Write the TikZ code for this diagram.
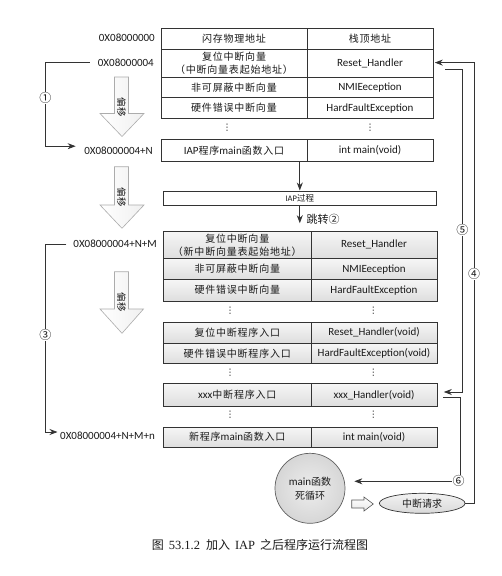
\documentclass[tikz,border=0pt]{standalone}
\usepackage{fontspec}
\setmainfont{Carlito}
\newfontfamily\cjkfont[LetterSpace=8]{Noto Sans CJK SC}
\newfontfamily\cjkplain{Noto Sans CJK SC}
\newfontfamily\capserif{Liberation Serif}
\newfontfamily\symfont{DejaVu Sans}
\newcommand\zh[1]{{\cjkfont\fontsize{10}{14}\selectfont #1}}
\usetikzlibrary{arrows.meta,shapes.geometric}
\definecolor{lc}{HTML}{333333}
\definecolor{tc}{HTML}{1A1A1A}
\tikzset{
  cell/.style={draw=lc, line width=0.6pt, inner sep=0pt, anchor=north west, align=center,
    text=tc, font=\fontsize{11}{14}\selectfont},
  cellw/.style={cell, fill=white},
  cellg/.style={cell, top color=gray!7, bottom color=gray!26},
  addr/.style={anchor=east, inner sep=0pt, text=tc, font=\fontsize{11}{13}\selectfont},
  ln/.style={draw=lc, line width=0.8pt},
  arr/.style={ln, -{Stealth[length=8pt,width=6pt]}},
  blk/.style={draw=gray!65, line width=0.6pt, left color=white, right color=gray!12},
  num/.style={fill=white, inner sep=0.5pt, text=tc, font=\cjkplain\fontsize{12}{12}\selectfont},
  dotsn/.style={inner sep=0pt, text=tc, font=\symfont\fontsize{9}{9}\selectfont},
  vtext/.style={rotate=-90, inner sep=0pt, text=tc, font=\cjkplain\fontsize{9.5}{9.5}\selectfont}
}
\begin{document}
\begin{tikzpicture}[x=1pt,y=-1pt]
\useasboundingbox[fill=white] (0,0) rectangle (502,576);

% ---- top table ----
\node[cellw, minimum width=146pt, minimum height=21pt] (r0l) at (160.7,28.3) {\zh{闪存物理地址}};
\node[cellw, minimum width=126pt, minimum height=21pt] (r0r) at (306.7,28.3) {\zh{栈顶地址}};
\node[cellw, minimum width=146pt, minimum height=28pt] (r1l) at (160.7,49.3) {\zh{复位中断向量}\\[-1pt]\zh{（中断向量表起始地址）}};
\node[cellw, minimum width=126pt, minimum height=28pt] (r1r) at (306.7,49.3) {Reset\_Handler};
\node[cellw, minimum width=146pt, minimum height=20pt] (r2l) at (160.7,77.3) {\zh{非可屏蔽中断向量}};
\node[cellw, minimum width=126pt, minimum height=20pt] (r2r) at (306.7,77.3) {NMIEeception};
\node[cellw, minimum width=146pt, minimum height=21pt] (r3l) at (160.7,97.3) {\zh{硬件错误中断向量}};
\node[cellw, minimum width=126pt, minimum height=21pt] (r3r) at (306.7,97.3) {HardFaultException};
\node[dotsn] (d0l) at (227,128) {⋮};
\node[dotsn] (d0r) at (370,128) {⋮};
\node[cellw, minimum width=146pt, minimum height=21.4pt] (r4l) at (160.7,139.3) {IAP\zh{程序}main\zh{函数入口}};
\node[cellw, minimum width=126pt, minimum height=21.4pt] (r4r) at (306.7,139.3) {int main(void)};

% ---- IAP box ----
\node[cellw, minimum width=272.4pt, minimum height=14pt, font=\fontsize{8.5}{10}\selectfont] (iap) at (163.3,190.5) {IAP{\cjkplain 过程}};

% ---- gray table ----
\node[cellg, minimum width=147.4pt, minimum height=27.6pt] (g0l) at (163.3,230.7) {\zh{复位中断向量}\\[-1pt]\zh{（新中断向量表起始地址）}};
\node[cellg, minimum width=126pt, minimum height=27.6pt] (g0r) at (310.7,230.7) {Reset\_Handler};
\node[cellg, minimum width=147.4pt, minimum height=21pt] (g1l) at (163.3,258.3) {\zh{非可屏蔽中断向量}};
\node[cellg, minimum width=126pt, minimum height=21pt] (g1r) at (310.7,258.3) {NMIEeception};
\node[cellg, minimum width=147.4pt, minimum height=21.2pt] (g2l) at (163.3,279.3) {\zh{硬件错误中断向量}};
\node[cellg, minimum width=126pt, minimum height=21.2pt] (g2r) at (310.7,279.3) {HardFaultException};
\node[dotsn] (d1l) at (230,310.7) {⋮};
\node[dotsn] (d1r) at (373.3,310.7) {⋮};
\node[cellg, minimum width=147.4pt, minimum height=21pt] (g3l) at (163.3,321.7) {\zh{复位中断程序入口}};
\node[cellg, minimum width=126pt, minimum height=21pt] (g3r) at (310.7,321.7) {Reset\_Handler(void)};
\node[cellg, minimum width=147.4pt, minimum height=20.6pt] (g4l) at (163.3,342.7) {\zh{硬件错误中断程序入口}};
\node[cellg, minimum width=126pt, minimum height=20.6pt] (g4r) at (310.7,342.7) {HardFaultException(void)};
\node[dotsn] (d2l) at (230,372.7) {⋮};
\node[dotsn] (d2r) at (373.3,372.7) {⋮};
\node[cellg, minimum width=147.4pt, minimum height=22.4pt] (g5l) at (163.3,383.3) {xxx\zh{中断程序入口}};
\node[cellg, minimum width=126pt, minimum height=22.4pt] (g5r) at (310.7,383.3) {xxx\_Handler(void)};
\node[dotsn] (d3l) at (230,415) {⋮};
\node[dotsn] (d3r) at (373.3,415) {⋮};
\node[cellg, minimum width=147.4pt, minimum height=20pt] (g6l) at (163.3,426.7) {\zh{新程序}main\zh{函数入口}};
\node[cellg, minimum width=126pt, minimum height=20pt] (g6r) at (310.7,426.7) {int main(void)};

% ---- address labels ----
\node[addr] (a0) at (155,38) {0X08000000};
\node[addr] (a1) at (154,62.3) {0X08000004};
\node[addr] (aN) at (153,150.7) {0X08000004+N};
\node[addr] (aM) at (157,244) {0X08000004+N+M};
\node[addr] (an) at (155,436) {0X08000004+N+M+n};

% ---- offset block arrows ----
\draw[blk] (114.5,77) -- (128.5,77) -- (128.5,113.5) -- (144,113.5) -- (122,136.5) -- (100,113.5) -- (114.5,113.5) -- cycle;
\node[vtext] (o1) at (121.5,107) {偏移};
\draw[blk] (114.5,166.7) -- (128.5,166.7) -- (128.5,205) -- (144,205) -- (122,228.3) -- (100,205) -- (114.5,205) -- cycle;
\node[vtext] (o2) at (121.5,197) {偏移};
\draw[blk] (114.5,271.7) -- (128.5,271.7) -- (128.5,309) -- (143.5,309) -- (122,333.3) -- (100,309) -- (114.5,309) -- cycle;
\node[vtext] (o3) at (121.5,302) {偏移};

% ---- left connectors ----
\coordinate (xl) at (45.3,0);
\coordinate (a1out) at ([xshift=-8pt]a1.west);
\coordinate (aNin) at ([xshift=-8.5pt,yshift=4.5pt]aN.west);
\draw[arr] (a1out) -- (xl |- a1out) -- (xl |- aNin) -- (aNin);
\node[num] (n1) at (45.3,98) {①};
\coordinate (aMout) at ([xshift=-7pt]aM.west);
\coordinate (anin) at ([xshift=-2.5pt,yshift=4pt]an.west);
\draw[arr] (aMout) -- (xl |- aMout) -- (xl |- anin) -- (anin);
\node[num] (n3) at (45.3,335) {③};

% ---- middle arrows ----
\draw[arr] (iap.north |- r4l.south) -- (iap.north);
\draw[arr] (iap.south) -- ([yshift=7.5pt]iap.south |- g0l.north);
\node[anchor=west, inner sep=0pt, text=tc, font=\cjkplain\fontsize{11}{12}\selectfont] (jump) at (306.5,219) {跳转②};

% ---- main loop and interrupt ----
\node[circle, draw=gray!75!black, line width=0.7pt, inner color=gray!14, outer color=gray!32,
  minimum size=70pt, inner sep=0pt, align=center, text=tc, font=\cjkplain\fontsize{10}{14}\selectfont] (mc) at (310,488.3) {{\fontspec{Carlito}\fontsize{11}{14}\selectfont main}函数\\死循环};
\node[ellipse, draw=lc, line width=0.7pt, top color=gray!10, bottom color=gray!30,
  minimum width=85.7pt, minimum height=20pt, inner sep=0pt, text=tc, font=\cjkplain\fontsize{10}{12}\selectfont] (ell) at (422.2,503.3) {中断请求};
\draw[draw=gray!70!black, line width=0.6pt, top color=white, bottom color=gray!18]
  (351.7,500) -- (364,500) -- (364,497) -- (373.3,504) -- (364,511) -- (364,508) -- (351.7,508) -- cycle;

% ---- right connectors ----
\coordinate (x4) at (474,0);
\coordinate (rhin) at ([xshift=1.5pt,yshift=1pt]r1r.east);
\draw[arr] (ell.east) -- (x4 |- ell.east) -- (x4 |- rhin) -- (rhin);
\node[num] (n4) at (474,274) {④};

\coordinate (x5) at (462.3,0);
\coordinate (s5) at ([xshift=12pt,yshift=-6pt]r1r.east);
\coordinate (e5) at ([xshift=6.5pt,yshift=2.8pt]g5r.east);
\draw[arr] (s5) -- (x5 |- s5) -- (x5 |- e5) -- (e5);
\node[num] (n5) at (462.3,230) {⑤};

\coordinate (x6) at (460.7,0);
\coordinate (s6) at ([xshift=6pt,yshift=-2.2pt]g5r.east);
\coordinate (e6) at ([xshift=9pt,yshift=7pt]mc.east);
\draw[arr] (s6) -- (x6 |- s6) -- (x6 |- e6) -- (e6);
\node[num] (n6) at (458.5,481) {⑥};

% ---- caption ----
\node[inner sep=0pt, text=tc, font=\cjkplain\fontsize{12}{13}\selectfont] (cap) at (260,545)
  {图\hspace{5pt}{\capserif\fontsize{12.5}{13}\selectfont 53.1.2}\hspace{6pt}加入\hspace{5pt}{\capserif\fontsize{12.5}{13}\selectfont IAP}\hspace{5pt}之后程序运行流程图};
\end{tikzpicture}
\end{document}
